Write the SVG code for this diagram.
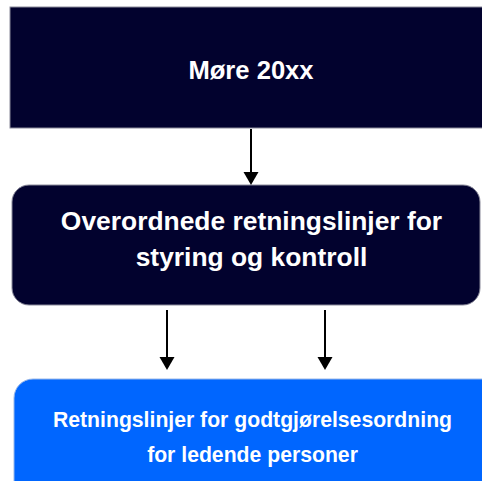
<svg xmlns="http://www.w3.org/2000/svg" width="482" height="481" viewBox="0 0 482 481">
<style>
.dark{fill:#02022e;stroke:#8a8a9a;stroke-width:1}
.blue{fill:#0066ff;stroke:#9ab8e8;stroke-width:1}
.t{font-family:"Liberation Sans",Arial,sans-serif;font-weight:bold;fill:#ffffff;text-anchor:middle}
.ln{stroke:#000;stroke-width:2;fill:none}
.ah{fill:#000}
</style>
<rect width="482" height="481" fill="#ffffff"/>
<g id="node-more">
<rect class="dark" x="10" y="7" width="480" height="121"/>
<text class="t" x="251" y="79" font-size="25.6">Møre 20xx</text>
</g>
<g id="node-overordnede">
<rect class="dark" x="12" y="185" width="468" height="120" rx="17"/>
<text class="t" x="251.5" y="230" font-size="26.4">Overordnede retningslinjer for</text>
<text class="t" x="251.5" y="266" font-size="26.4">styring og kontroll</text>
</g>
<g id="node-retningslinjer">
<rect class="blue" x="14" y="379" width="490" height="130" rx="19"/>
<text class="t" x="252.5" y="427" font-size="21.2">Retningslinjer for godtgjørelsesordning</text>
<text class="t" x="252.5" y="462" font-size="21.2">for ledende personer</text>
</g>
<g id="connectors">
<line class="ln" x1="251" y1="129" x2="251" y2="174"/>
<polygon class="ah" points="243.5,172 258.5,172 251,185"/>
<line class="ln" x1="167" y1="310" x2="167" y2="359"/>
<polygon class="ah" points="159.5,357 174.5,357 167,370"/>
<line class="ln" x1="325" y1="310" x2="325" y2="359"/>
<polygon class="ah" points="317.5,357 332.5,357 325,370"/>
</g>
</svg>
